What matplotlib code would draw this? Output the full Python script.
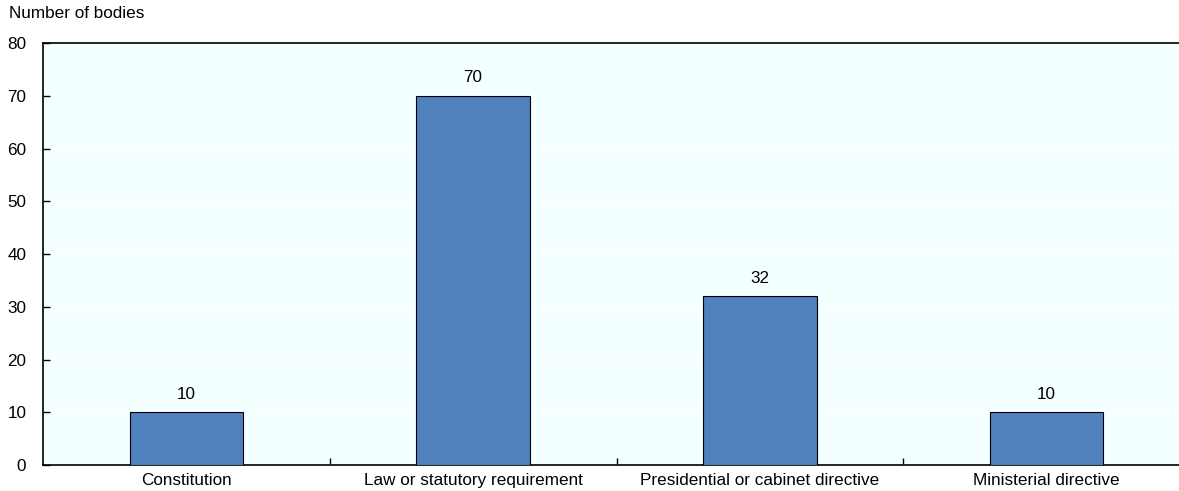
import matplotlib
matplotlib.use("Agg")
import matplotlib.pyplot as plt
from matplotlib.ticker import FixedLocator

categories = ["Constitution", "Law or statutory requirement",
              "Presidential or cabinet directive", "Ministerial directive"]
values = [10, 70, 32, 10]
yticks = [0, 10, 20, 30, 40, 50, 60, 70, 80]

plt.rcParams['font.family'] = ['Liberation Sans', 'DejaVu Sans']
FS = 12.3
fig = plt.figure(figsize=(11.79, 4.91), dpi=100)
ax = fig.add_axes([43/1179, 26/491, 1147/1179, (465-43)/491])
ax.set_facecolor('#F4FFFF')
x = list(range(len(categories)))
bars = ax.bar(x, values, width=0.395, color='#4F81BD', edgecolor='black', linewidth=0.8, zorder=3)
for xi, v in zip(x, values):
    ax.text(xi, v + 2, str(v), ha='center', va='bottom', fontsize=FS)
ax.set_xlim(-0.5, 3.5)
ax.set_ylim(0, 80)
ax.set_yticks(yticks)
ax.yaxis.grid(True, color='white', linewidth=1.2, zorder=0)
ax.set_xticks(x)
ax.set_xticklabels(categories, fontsize=FS)
ax.tick_params(axis='x', length=0, pad=6)
ax.xaxis.set_minor_locator(FixedLocator([0.5, 1.5, 2.5]))
ax.tick_params(axis='x', which='minor', direction='in', length=5, width=1)
ax.tick_params(axis='y', direction='in', length=5, width=1, labelsize=FS, pad=12)
for s in ['left', 'bottom', 'top']:
    ax.spines[s].set_color('black')
    ax.spines[s].set_linewidth(1.2)
ax.spines['right'].set_visible(False)
fig.text(9/1179, 1 - 13/491, "Number of bodies", fontsize=FS, va='center', ha='left')
fig.savefig("out.png", dpi=100)
